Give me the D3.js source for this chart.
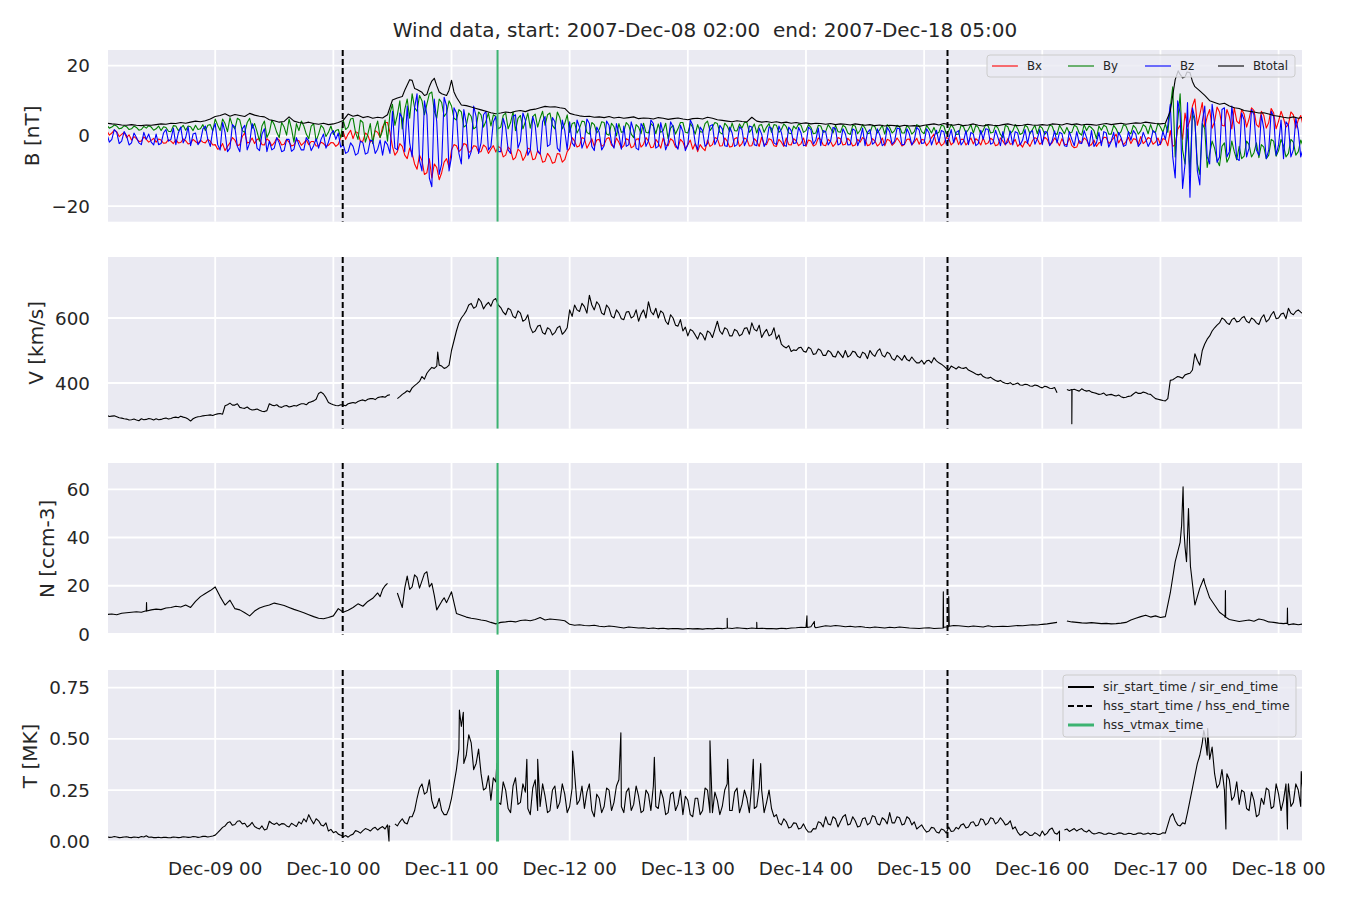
<!DOCTYPE html>
<html><head><meta charset="utf-8">
<script src="https://cdn.jsdelivr.net/npm/d3@7/dist/d3.min.js"></script>
<style>body{margin:0;background:#fff;} svg{font-family:"DejaVu Sans",sans-serif;}</style>
</head><body><svg id="c" width="1350" height="900"></svg>
<script>
// ---------- DATA (hour 0 = 2007-12-08 02:00 UTC; "...Half" arrays are the samples at hour i+0.5) ----------
const titleText = "Wind data, start: 2007-Dec-08 02:00  end: 2007-Dec-18 05:00";
const xTickLabels = ["Dec-09 00","Dec-10 00","Dec-11 00","Dec-12 00","Dec-13 00","Dec-14 00","Dec-15 00","Dec-16 00","Dec-17 00","Dec-18 00"];
const bTicks = [-20, 0, 20];
const vTicks = [400, 600];
const nTicks = [0, 20, 40, 60];
const tTicks = [0, 0.25, 0.5, 0.75];

const btotal = [
3.6,3.4,3.3,3.1,3.0,3.2,3.0,2.9,3.1,3.0,
3.2,3.4,3.3,3.6,3.5,3.8,3.6,3.9,4.2,4.0,
4.3,4.8,5.5,5.8,6.3,5.6,6.1,5.8,5.5,6.4,
5.9,5.6,5.4,4.6,4.3,3.9,4.1,5.4,4.2,3.8,
3.6,3.9,3.5,3.3,3.6,3.2,3.4,3.8,4.4,6.2,
5.6,5.9,5.2,5.5,5.0,5.3,5.1,6.0,10.2,10.8,
11.2,14.5,15.8,13.2,12.4,11.8,15.6,14.3,12.0,11.5,
15.8,11.0,8.8,8.6,8.2,7.8,7.4,7.0,6.6,6.3,
6.5,6.8,6.6,7.0,7.2,6.9,7.4,7.6,8.0,8.4,
8.2,8.3,8.0,7.8,6.4,6.0,5.7,5.5,5.6,5.3,
5.4,5.2,5.5,5.1,5.3,5.0,5.2,5.4,4.9,5.1,
5.0,4.8,5.2,5.0,4.7,4.9,5.1,4.8,4.6,4.9,
5.0,4.8,5.3,5.0,4.6,4.4,4.2,4.0,4.3,4.1,
4.0,5.3,4.2,3.9,4.1,3.8,4.0,3.7,3.9,3.6,
3.8,3.5,3.7,3.4,3.6,3.5,3.3,3.5,3.2,3.4,
3.3,3.1,3.4,3.2,3.0,3.2,2.9,3.1,2.8,3.0,
2.9,2.7,3.0,2.8,2.9,2.7,3.0,3.2,3.4,3.1,
3.5,3.2,3.0,3.3,2.9,3.1,3.4,3.0,2.8,3.2,
3.0,2.9,3.2,3.4,3.1,2.9,3.0,3.3,3.1,3.0,
3.2,3.0,3.4,3.3,3.1,3.5,3.2,3.4,3.1,3.3,
3.2,3.0,3.3,3.5,3.2,3.4,3.6,3.3,3.5,3.7,
3.6,3.9,3.7,3.5,3.4,3.6,7.0,16.0,17.5,16.8,
18.0,14.0,12.8,11.5,10.0,9.5,9.0,9.3,8.5,8.0,
7.8,7.2,7.0,6.8,6.5,6.6,6.2,5.8,5.6,5.3,
5.1,5.4,5.0,5.3];
const btotalExtra = [[60.5,13.0],[61.5,16.0],[62.5,13.5],[64.5,11.5],[65.5,14.0],[66.5,16.4],[67.5,12.5],[69.5,13.0],[70.5,12.5],
  [217.6,18.5],[218.5,16.5],[219.4,18.2],[220.5,15.5]];

const bx = [
1.5,0.8,1.2,0.4,-0.5,-1.2,-0.8,-1.5,-1.0,-1.3,
-1.8,-1.2,-2.0,-1.5,-1.1,-1.9,-1.4,-2.1,-1.6,-1.2,
-2.0,-1.5,-2.5,-3.5,-4.2,-2.0,-1.2,-2.5,0.8,-1.8,
-2.2,-0.8,-2.6,-1.5,-2.0,-1.2,-2.4,-1.8,-2.6,-1.4,
-2.0,-2.5,-1.6,-2.8,-2.2,-2.7,-2.0,-2.4,1.2,0.5,
-0.8,0.8,-1.5,0.2,-1.2,1.0,2.5,3.8,-3.0,-4.5,
-3.0,-6.5,-5.0,-9.5,-7.0,-10.5,-12.0,-9.0,-10.5,-6.5,
-4.0,-2.8,-3.8,-2.5,-4.2,-3.0,-4.5,-3.2,-3.8,-4.6,
-3.5,-5.5,-4.0,-6.2,-4.5,-5.8,-3.8,-6.5,-5.0,-7.2,
-6.0,-7.5,-5.2,-6.8,-3.5,-1.5,-2.8,-0.8,-2.2,-3.0,
-1.0,-2.5,-0.5,-3.2,-1.8,-2.8,-1.2,-3.0,-0.8,-2.4,
-1.5,-3.2,-2.0,-0.6,-2.8,-1.4,-3.5,-1.8,-2.5,-3.8,
-4.5,-3.5,-1.2,-2.5,-0.8,-2.8,-1.5,-3.0,-0.5,-2.2,
-1.0,-2.8,-1.6,-0.4,-2.5,-1.2,-3.0,-1.8,-0.6,-2.6,
-1.4,-2.2,-3.0,-1.5,-2.5,-1.0,-2.8,-1.6,-2.2,-0.8,
-2.4,-1.5,-2.6,-1.8,-1.0,-2.5,-1.5,-2.2,-2.8,-1.3,
-2.0,-1.6,-2.5,-0.9,-1.8,-2.4,-1.2,-1.9,0.5,-1.5,
-2.2,-0.8,-1.8,-2.5,-1.0,-1.7,-2.3,-1.4,-0.6,-2.0,
-1.2,-2.5,-1.5,-0.8,-2.2,-3.0,-3.2,-2.0,-1.4,-0.9,
-1.8,-1.0,-2.0,-1.5,-0.8,-2.5,-2.8,-3.2,-2.0,-1.2,
-2.5,-3.0,-1.8,-0.5,-1.5,0.5,-0.8,-1.6,-2.2,-1.0,
-0.2,-1.5,-0.8,-1.8,-2.5,-1.0,1.5,-2.5,3.0,6.5,
4.5,10.5,6.0,2.5,7.5,4.0,6.8,2.8,5.5,8.0,
3.5,6.2,4.8,7.2,2.5,5.8,3.8,6.5,4.2,5.0,
3.2,6.0,4.5,2.8];
const bxHalf = [
0.2,1.6,-0.2,1.0,0.3,-0.2,-1.6,-0.3,-1.8,-0.7,
-0.9,-2.1,-1.1,-2.2,-2.0,-0.9,-2.3,-1.0,-2.2,-1.8,
-1.0,-2.6,-3.8,-2.2,-3.0,-0.5,-2.8,-0.2,-2.0,-0.6,
-1.0,-2.5,-0.8,-2.8,-0.6,-2.6,-1.0,-2.9,-1.2,-2.7,
-1.2,-1.6,-2.9,-1.8,-3.0,-1.9,-3.0,-0.5,-1.0,1.6,
1.2,-1.6,0.8,-1.8,1.5,-0.5,3.8,1.0,-5.5,-2.2,
-5.5,-3.5,-8.0,-5.5,-11.0,-6.5,-8.0,-12.5,-7.5,-9.0,
-2.5,-4.5,-2.2,-4.8,-2.8,-4.6,-2.6,-5.0,-2.8,-3.0,
-6.0,-3.2,-6.8,-3.8,-7.0,-3.5,-6.8,-4.2,-7.5,-5.0,
-7.8,-5.0,-7.5,-4.5,-0.5,-3.2,-0.5,-3.5,-0.8,-1.2,
-3.0,-0.8,-2.6,-0.6,-3.5,-0.8,-3.4,-1.0,-3.2,-0.5,
-3.4,-1.0,-3.5,-2.6,-0.8,-3.2,-1.0,-3.6,-1.2,-2.2,
-2.5,-4.2,-3.0,-0.5,-2.9,-0.6,-3.2,-0.8,-3.0,-0.6,
-2.9,-0.8,-3.0,-2.4,-0.8,-2.8,-1.0,-3.0,-2.5,-0.8,
-2.8,-0.6,-1.2,-2.9,-0.6,-2.6,-1.0,-3.0,-0.5,-2.6,
-0.7,-2.9,-1.0,-0.5,-2.8,-0.8,-2.9,-0.6,-1.0,-2.7,
-0.6,-2.9,-1.0,-2.6,-0.7,-1.0,-2.8,-0.5,-2.5,-2.8,
-0.5,-2.6,-0.4,-1.0,-2.6,-0.6,-0.8,-2.6,-2.4,-0.7,
-2.8,-0.6,-2.6,-2.4,-1.0,-2.2,-1.6,-3.0,-0.5,-2.4,
-0.4,-2.6,-0.6,-2.8,-2.4,-0.6,-3.4,-1.4,-0.6,-2.8,
-1.2,-2.0,-0.4,-2.2,-0.6,-2.0,-2.6,-0.4,-0.8,-2.4,
-2.2,-0.5,-2.4,-0.6,-0.8,-2.8,-3.0,1.8,-1.0,2.5,
8.5,3.0,9.5,5.5,2.2,8.2,3.0,7.5,2.0,4.2,
7.5,2.5,8.0,3.2,7.0,2.2,7.8,2.0,7.0,2.5,
6.8,2.2,5.8];

const by = [
3.0,2.5,2.8,2.2,2.6,2.0,2.4,1.8,2.2,2.5,
2.0,1.5,2.4,1.2,2.8,2.2,1.6,2.6,3.0,2.0,
1.5,3.2,4.8,1.5,3.5,5.2,2.0,4.5,1.0,5.0,
3.5,-1.5,4.2,1.0,3.2,-0.5,2.5,4.8,-1.8,1.5,
2.8,-0.8,3.5,0.5,2.2,1.0,0.4,1.8,4.5,2.5,
5.0,-1.0,3.8,0.5,-2.2,4.2,1.5,-1.5,9.0,6.0,
2.0,10.5,12.0,7.0,10.0,9.0,12.5,5.0,9.5,6.5,
8.5,4.5,6.8,3.0,5.5,2.5,6.0,4.2,2.8,5.5,
2.5,6.5,3.8,1.5,5.8,4.0,2.2,6.2,5.0,3.0,
6.5,2.0,5.2,3.5,1.0,3.8,2.2,4.0,0.5,3.2,
1.8,3.8,0.2,2.6,3.5,1.2,3.0,-0.5,2.5,3.6,
0.8,2.8,3.4,1.5,-0.8,3.0,2.0,3.8,0.8,2.4,
3.2,1.0,4.2,2.5,3.5,0.5,2.8,3.6,1.4,2.2,
3.8,2.0,0.8,3.2,2.5,1.0,3.0,1.8,2.6,0.6,
2.0,3.0,1.5,2.4,0.8,2.8,1.2,2.2,3.0,1.0,
2.5,0.4,2.8,1.6,2.2,0.8,2.6,1.8,0.5,2.4,
1.5,2.6,0.8,2.2,1.2,2.8,0.6,2.0,2.4,1.0,
2.8,1.5,2.2,0.5,2.6,1.8,0.8,2.4,1.6,2.8,
1.0,2.2,-0.5,2.6,1.4,2.0,0.8,2.5,1.8,0.6,
2.2,1.2,2.8,0.4,1.8,2.4,1.0,2.6,0.2,1.5,
2.3,-0.8,1.6,2.6,0.5,2.0,1.2,2.8,0.6,2.2,
1.4,2.6,3.2,1.0,2.5,3.4,8.0,-6.0,12.0,-8.0,
-10.5,4.0,-11.0,2.0,-5.0,-3.5,-8.5,-2.0,-6.0,-4.5,
-3.0,-5.8,-2.5,-4.8,-6.2,-3.2,-5.5,-1.5,-4.2,-2.8,
-5.0,-1.8,-4.5,-3.0];
const byHalf = [
2.2,3.1,2.0,2.9,1.8,2.8,1.6,2.7,2.9,1.6,
2.8,2.6,1.3,2.9,1.5,3.0,2.8,1.5,1.8,3.2,
3.0,1.4,3.0,4.8,1.2,3.0,5.0,1.5,3.8,2.2,
1.2,2.8,-0.5,4.5,1.0,3.8,0.2,2.0,3.5,4.2,
0.5,2.8,-1.5,3.0,-0.2,2.8,1.5,-0.5,1.8,4.8,
1.0,4.5,-1.8,3.5,2.0,-0.5,4.5,6.5,3.0,10.0,
7.5,5.0,8.0,11.5,6.0,12.0,7.0,10.5,5.5,10.0,
5.0,7.5,2.5,6.5,2.0,6.8,2.5,6.5,6.0,2.0,
5.8,2.0,6.8,5.0,2.0,6.5,5.5,2.5,7.0,6.0,
3.0,6.8,2.0,6.0,3.5,0.8,4.2,1.0,3.8,0.8,
4.0,0.5,3.6,0.0,1.0,3.8,0.5,3.2,0.6,1.0,
3.5,0.6,1.0,3.6,2.2,0.5,3.8,1.0,3.5,0.5,
1.2,3.5,1.5,3.8,1.0,3.6,1.2,1.5,3.4,3.8,
1.0,3.4,3.0,1.0,3.5,3.2,1.0,3.4,0.8,2.8,
3.4,1.0,3.2,0.6,3.0,1.0,3.2,0.8,1.2,3.0,
0.8,3.0,0.6,3.2,0.6,3.0,0.8,3.0,3.2,0.8,
3.0,0.8,3.0,0.5,3.2,1.2,3.0,0.8,0.6,3.0,
0.6,3.2,0.4,3.0,0.8,3.2,3.0,0.5,3.2,0.8,
3.0,0.4,3.0,0.6,3.2,0.4,3.0,0.6,3.0,2.8,
0.4,3.0,0.8,3.0,0.6,0.8,3.0,0.8,3.2,2.8,
1.5,2.8,3.0,0.5,3.0,0.4,3.2,1.0,3.0,0.5,
3.2,0.6,1.2,3.6,1.0,1.0,14.0,4.0,-4.0,2.0,
6.5,-8.0,3.5,-9.0,-1.5,-7.0,-3.0,-7.5,-1.5,-6.8,
-6.5,-1.5,-6.0,-2.0,-2.5,-6.5,-1.0,-5.8,-1.0,-6.0,
-1.0,-5.5,-1.2];

const bz = [
0.5,-1.0,1.0,-1.5,0.0,-2.0,-0.5,-2.5,-1.0,-1.8,
0.5,-2.2,1.8,-1.0,-2.5,2.5,-0.5,-2.8,0.8,-1.5,
2.8,-3.0,3.5,-4.0,1.0,-3.5,2.5,-4.5,3.0,-2.0,
1.5,-4.2,2.0,-1.5,-3.5,-2.0,-4.2,-1.0,-3.8,-2.5,
-4.0,-1.5,-2.8,-3.5,0.5,-1.8,1.5,0.8,-2.5,-4.5,
-3.0,-5.0,-2.0,-4.8,-1.5,-3.8,-5.5,-2.5,7.0,-4.0,
5.0,8.5,-6.0,12.0,-10.0,6.0,-14.5,4.0,-8.0,8.5,
-6.0,6.5,-8.0,3.5,-4.5,5.5,-2.0,7.0,-3.0,5.5,
-4.5,2.5,-5.0,6.0,-1.5,4.5,-4.0,3.0,-5.2,5.5,
-2.5,4.0,-4.5,1.5,4.0,-3.0,2.5,-1.5,3.5,-4.2,
1.0,-2.8,3.0,-3.5,0.5,2.8,-2.5,1.5,-4.0,2.2,
-1.5,3.5,-3.0,0.5,-2.0,2.6,-3.8,1.2,-2.5,3.0,
-4.0,1.5,-2.2,3.2,-1.0,2.0,-3.0,0.8,-2.5,1.8,
-1.2,2.5,-2.8,0.5,-1.8,2.2,-2.5,1.0,-3.0,1.5,
-2.0,0.8,-2.6,1.8,-1.2,-2.8,1.2,-1.5,2.0,-2.2,
0.6,-2.5,1.5,-1.0,-2.8,1.8,-1.8,0.2,-2.2,1.2,
-1.5,2.0,-2.4,0.5,-1.2,1.6,-2.0,0.8,-0.5,-1.8,
1.2,-0.8,-2.0,1.5,-1.6,-2.5,0.5,-2.2,-1.0,1.8,
-2.0,-0.5,1.2,-1.8,-2.6,0.8,-1.2,-2.2,1.5,-0.8,
-2.5,1.0,-1.5,-2.0,0.6,-3.0,-1.0,1.2,-2.2,-0.5,
1.5,-2.0,-2.8,0.8,-1.6,-3.2,-0.5,-2.6,-1.2,0.5,
-2.0,-0.8,-1.6,0.8,-2.2,-1.0,9.0,-12.0,6.5,-8.0,
-17.5,5.0,-14.0,8.5,-8.0,3.5,-6.0,8.0,-4.5,2.5,
-7.0,4.5,-3.5,6.0,-5.5,2.0,-4.0,5.5,-2.5,-6.5,
3.0,-4.0,1.5,-3.5];
const bzHalf = [
-1.8,1.8,-2.2,1.2,-2.6,0.8,-2.0,1.0,0.5,-2.6,
-2.5,0.8,-1.5,2.2,0.8,-2.0,2.6,0.5,-2.5,2.0,
-1.0,1.5,-2.5,3.8,-4.5,3.2,-3.0,2.0,-4.0,3.5,
-3.5,0.5,-4.5,-4.0,-0.5,-4.5,-1.0,-4.4,-0.5,-4.0,
-0.5,-4.2,-0.8,-1.0,-3.5,0.6,-1.0,-3.2,-5.0,-2.0,
-5.5,-1.5,-5.2,-1.2,-5.0,-1.2,-1.5,-5.0,-3.5,6.5,
-4.5,-2.0,8.0,-7.0,10.0,-12.0,10.5,-11.0,11.0,-10.0,
8.0,-5.0,7.5,-6.5,8.5,-5.0,6.0,-4.0,4.0,-4.5,
5.0,-4.0,5.5,-3.5,6.5,-5.5,5.5,-4.5,4.0,-3.0,
5.2,-3.5,4.5,-4.0,-2.0,4.5,-3.5,4.8,-3.0,2.5,
-4.0,4.2,-2.0,3.5,-3.8,-3.0,4.0,-3.5,3.5,-3.0,
4.5,-3.5,3.8,-4.0,4.0,-2.5,3.0,-4.2,4.5,-2.0,
2.5,-3.0,2.8,-2.5,3.0,-2.8,2.5,-3.0,2.6,-2.8,
2.8,-2.5,2.2,-3.0,2.6,-2.0,2.8,-2.6,2.5,-2.2,
2.4,-2.8,2.5,-2.4,2.2,1.5,-2.6,2.4,-2.6,2.0,
-2.6,2.0,-2.8,2.2,1.0,-2.4,2.0,-2.8,2.4,-2.4,
2.2,-2.6,2.0,-2.6,2.4,-2.2,2.0,-2.6,1.6,1.5,
-2.4,1.8,1.0,-2.6,1.5,1.0,-2.8,1.6,2.0,-2.4,
1.6,-2.8,-2.4,1.4,1.2,-2.6,1.8,1.0,-2.4,1.8,
1.2,-2.8,1.4,1.0,-2.8,1.2,-2.8,-2.0,1.5,-3.0,
-3.0,1.0,1.2,-3.2,1.0,1.0,-3.0,1.2,1.5,-3.0,
1.0,-3.0,1.5,-2.8,1.2,3.0,-6.0,10.0,-15.0,9.5,
8.0,-10.0,4.0,-6.0,9.0,-7.5,7.5,-6.0,8.5,-6.5,
6.5,-6.0,7.5,-4.0,6.0,-6.5,7.0,-5.5,4.5,4.0,
-6.0,5.0,-6.0];

const speed = [
300,298,296,292,289,287,286,290,288,289,
290,288,292,291,295,298,293,283,294,297,
300,302,303,306,330,338,332,325,322,320,
318,316,312,336,330,327,329,326,331,333,
336,340,345,368,366,340,333,330,332,336,
340,343,348,350,352,355,358,362,null,352,
365,376,385,398,420,430,448,452,452,448,
500,560,600,622,645,635,650,640,636,660,
632,610,625,600,615,595,572,560,578,550,
565,555,575,558,625,640,620,635,670,625,
640,610,630,600,615,595,620,605,590,625,
650,610,600,615,580,600,575,560,545,560,
535,548,560,540,590,550,565,545,560,550,
570,585,560,540,565,550,535,520,508,497,
500,510,495,505,490,500,485,495,480,488,
500,485,495,478,490,500,482,505,480,490,
470,478,485,468,470,462,458,470,478,462,
452,440,448,450,445,440,432,425,420,415,
412,405,402,398,395,400,393,395,390,392,
385,388,383,370,null,380,378,378,382,375,
372,368,366,362,365,360,358,356,360,372,
368,370,365,352,348,345,408,415,418,425,
430,490,455,520,545,570,585,595,580,600,
590,605,585,595,580,610,595,620,600,615,
630,610,625,612];
const speedHalf = [
297,299,293,290,286,289,284,287,291,286,
287,291,289,294,293,295,289,290,296,299,
301,300,305,304,333,332,336,323,326,317,
320,313,315,332,333,325,331,328,329,336,
333,342,350,372,355,336,331,333,330,338,
338,346,345,352,349,357,356,364,null,358,
370,372,392,405,412,440,445,455,445,455,
530,585,610,640,630,660,628,648,655,640,
618,630,605,622,590,610,555,575,555,570,
548,570,550,570,605,625,645,615,640,650,
615,640,605,625,598,618,600,625,612,600,
620,630,622,590,610,578,595,572,565,548,
555,532,555,565,560,570,545,565,545,568,
550,565,578,555,545,570,548,512,515,502,
508,498,510,488,505,485,500,482,498,478,
480,498,482,495,475,488,498,485,495,475,
485,470,472,480,462,470,468,462,468,458,
445,452,443,446,448,436,428,428,416,418,
408,408,399,401,397,394,396,391,394,388,
390,384,386,null,null,377,381,375,378,377,
370,365,369,364,362,363,355,359,366,368,
372,366,358,350,346,352,410,420,415,428,
440,470,500,535,560,578,600,585,595,588,
600,590,600,585,600,588,610,598,612,598,
615,620,618];
const speedExtra = [[67.2,495],[195.95,380],[196.0,275],[196.05,379]];

const density = [
8.1,8.3,8.0,8.6,8.8,9.0,9.2,9.0,9.6,10.0,
10.3,10.1,10.8,11.0,11.5,11.2,12.0,11.0,13.5,15.5,
16.8,18.0,19.5,15.5,12.0,14.0,10.5,10.0,8.8,7.5,
9.5,10.8,11.5,12.0,12.8,12.3,11.8,11.0,10.2,9.5,
8.8,8.0,7.2,6.5,6.3,6.8,7.5,10.5,9.0,9.8,
11.0,12.5,11.5,13.5,14.8,17.0,18.5,21.0,null,17.0,
11.0,24.0,19.5,23.5,22.0,25.8,21.0,10.0,13.5,13.0,
17.5,8.5,7.8,7.0,6.5,6.2,5.8,5.5,4.8,4.2,
4.8,5.0,5.3,5.0,5.6,5.8,5.5,6.0,6.8,5.8,
6.2,6.0,5.8,5.5,4.0,3.6,3.8,3.5,3.4,3.6,
3.2,3.0,3.3,3.1,2.8,2.5,2.9,2.7,2.5,2.6,
2.3,2.5,2.2,2.4,2.1,2.3,2.2,2.0,2.3,2.1,
2.2,2.0,2.3,2.1,2.4,2.2,2.5,2.3,2.6,2.4,
2.2,2.5,2.3,2.4,2.2,2.3,2.1,2.4,2.2,2.5,
2.6,2.8,2.7,3.0,2.6,3.0,3.4,3.2,3.5,3.3,
3.0,3.2,2.9,3.1,2.8,2.6,2.9,2.7,2.5,2.8,
2.6,2.9,2.7,2.5,2.4,2.3,2.5,2.6,2.3,2.4,
2.8,3.2,3.5,3.4,3.2,3.0,3.3,3.1,2.9,3.4,
3.0,3.1,3.2,3.1,3.3,3.5,3.4,3.6,3.8,3.7,
4.0,4.2,4.5,4.8,null,5.4,5.0,4.8,4.6,4.5,
4.7,4.5,4.3,4.4,4.2,4.3,4.5,4.8,5.8,6.5,
7.2,7.8,7.0,7.5,6.8,7.2,17.0,30.0,38.0,36.0,
33.0,12.0,19.0,21.0,15.0,12.0,9.0,7.5,6.0,5.6,
5.2,5.5,5.8,5.3,6.2,5.8,5.0,4.8,4.5,4.3,
3.8,4.2,3.8,4.2];
const densityExtra = [[8.0,9.4],[8.05,13.0],[8.1,9.5],[55.5,15.5],[56.5,20.0],[60.5,19.0],[61.5,18.5],[62.5,24.5],[63.5,19.0],
  [64.5,25.0],[65.5,19.5],[66.5,16.0],[68.5,15.0],
  [126.0,6.5],[126.05,2.5],[132.0,4.8],[132.05,2.3],
  [142.2,7.5],[142.25,2.7],[143.7,5.2],[143.75,3.0],[169.85,2.5],[169.9,17.5],[169.95,2.6],
  [170.95,3.0],[171.0,15.5],[171.1,3.2],[218.3,45.0],[218.6,61.0],[218.8,42.0],[219.3,30.0],
  [219.7,52.0],[220.1,28.0],[222.8,23.0],[227.15,7.0],[227.2,18.0],[227.25,7.0],[239.75,4.5],[239.8,10.7],[239.85,4.3]];

const temperature = [
0.022,0.020,0.021,0.019,0.022,0.018,0.020,0.023,0.027,0.021,
0.018,0.017,0.019,0.018,0.020,0.019,0.021,0.020,0.022,0.021,
0.024,0.023,0.030,0.055,0.075,0.095,0.082,0.100,0.088,0.078,
0.072,0.060,0.055,0.098,0.082,0.078,0.085,0.070,0.080,0.095,
0.110,0.130,0.085,0.100,0.075,0.050,0.042,0.035,0.022,0.020,
0.035,0.048,0.052,0.058,0.062,0.055,0.072,0.080,null,0.075,
0.110,0.085,0.120,0.210,0.280,0.240,0.200,0.170,0.150,0.130,
0.210,0.350,0.560,0.420,0.480,0.380,0.330,0.260,0.200,0.290,
0.180,0.250,0.140,0.310,0.190,0.240,0.130,0.300,0.170,0.220,
0.150,0.270,0.190,0.230,0.170,0.330,0.200,0.160,0.280,0.120,
0.210,0.170,0.250,0.190,0.300,0.140,0.260,0.180,0.220,0.150,
0.230,0.270,0.160,0.210,0.140,0.240,0.180,0.130,0.200,0.120,
0.210,0.150,0.250,0.140,0.200,0.170,0.280,0.150,0.260,0.180,
0.210,0.280,0.170,0.250,0.190,0.160,0.130,0.080,0.095,0.070,
0.088,0.065,0.060,0.045,0.060,0.090,0.120,0.080,0.110,0.095,
0.130,0.085,0.100,0.075,0.115,0.090,0.120,0.080,0.105,0.140,
0.090,0.115,0.085,0.110,0.095,0.070,0.060,0.050,0.065,0.040,
0.055,0.070,0.050,0.060,0.085,0.070,0.095,0.080,0.105,0.090,
0.110,0.095,0.100,0.085,0.060,0.045,0.035,0.040,0.030,0.035,
0.050,0.040,0.065,0.035,null,0.060,0.055,0.050,0.062,0.045,
0.042,0.038,0.040,0.035,0.038,0.036,0.040,0.034,0.038,0.035,
0.040,0.036,0.034,0.038,0.035,0.040,0.120,0.100,0.075,0.085,
0.200,0.320,0.420,0.520,0.400,0.330,0.280,0.250,0.300,0.220,
0.180,0.240,0.150,0.200,0.130,0.180,0.250,0.170,0.230,0.200,
0.280,0.190,0.250,0.220];
const temperatureHalf = [
0.019,0.023,0.018,0.021,0.019,0.021,0.018,0.021,0.020,0.018,
0.020,0.019,0.017,0.021,0.018,0.022,0.019,0.023,0.019,0.024,
0.021,0.026,0.042,0.068,0.090,0.078,0.098,0.085,0.070,0.092,
0.065,0.075,0.060,0.088,0.090,0.086,0.075,0.088,0.072,0.085,
0.095,0.105,0.110,0.080,0.090,0.058,0.048,0.030,0.028,0.030,
0.052,0.040,0.062,0.050,0.068,0.065,0.060,0.070,0.085,0.095,
0.090,0.120,0.150,0.260,0.230,0.300,0.160,0.210,0.130,0.160,
0.280,0.450,0.380,0.520,0.350,0.450,0.250,0.320,0.310,0.190,
0.290,0.160,0.270,0.180,0.280,0.160,0.260,0.150,0.280,0.140,
0.250,0.160,0.280,0.140,0.260,0.180,0.270,0.240,0.150,0.230,
0.140,0.260,0.150,0.270,0.170,0.240,0.150,0.270,0.140,0.250,
0.150,0.170,0.250,0.130,0.230,0.150,0.250,0.220,0.130,0.210,
0.130,0.260,0.140,0.240,0.130,0.250,0.150,0.240,0.140,0.250,
0.140,0.160,0.260,0.140,0.250,0.120,0.090,0.110,0.065,0.090,
0.060,0.085,0.045,0.062,0.095,0.070,0.085,0.120,0.070,0.120,
0.080,0.120,0.070,0.110,0.080,0.125,0.085,0.115,0.085,0.090,
0.120,0.080,0.120,0.080,0.060,0.080,0.045,0.068,0.045,0.060,
0.040,0.048,0.068,0.080,0.065,0.092,0.075,0.110,0.080,0.115,
0.085,0.115,0.080,0.100,0.070,0.030,0.048,0.028,0.042,0.025,
0.030,0.058,0.040,0.050,0.055,0.048,0.062,0.058,0.050,0.055,
0.036,0.043,0.034,0.040,0.033,0.041,0.035,0.039,0.033,0.040,
0.034,0.040,0.039,0.033,0.042,0.080,0.135,0.080,0.090,0.140,
0.260,0.380,0.480,0.420,0.460,0.260,0.350,0.330,0.200,0.290,
0.250,0.160,0.240,0.120,0.210,0.260,0.160,0.280,0.150,0.280,
0.170,0.280,0.170];
const temperatureExtra = [[57.3,0.0],[57.35,0.075],[71.6,0.64],[72.4,0.63],[79.2,0.38],[85.3,0.40],[87.5,0.40],
  [94.6,0.44],[104.4,0.53],[111.2,0.41],[122.5,0.49],[126.1,0.40],[131.3,0.40],[132.8,0.38],
  [193.5,0.0],[222.8,0.54],[223.6,0.55],[227.3,0.06],[227.35,0.25],[239.8,0.06],[239.85,0.2],[242.6,0.34]];

const hssHours = [47.9, 170.75];   // hss_start_time / hss_end_time
const vtmaxHour = 79.35;           // hss_vtmax_time

// ---------- CHART ----------
const svg = d3.select("#c");
const H = 3600e3;
const t0 = Date.UTC(2007, 11, 8, 2, 0);
const t1 = Date.UTC(2007, 11, 18, 5, 0);
const toDate = h => new Date(t0 + h * H);
const axL = 108, axR = 1302;
const x = d3.scaleUtc().domain([new Date(t0), new Date(t1)]).range([106.9, 1303.2]);
const dayTicks = d3.utcDay.range(new Date(Date.UTC(2007,11,9)), new Date(Date.UTC(2007,11,18,1)));

function build(vals, half, extra) {
  const pts = vals.map((v, i) => ({h: i, v}));
  (half || []).forEach((v, i) => pts.push({h: i + 0.5, v}));
  (extra || []).forEach(([h, v]) => pts.push({h, v}));
  pts.sort((a, b) => a.h - b.h);
  return pts.map(p => ({date: toDate(p.h), v: p.v}));
}

const panels = [
  {top: 50, bottom: 221.7, domain: [-24.45, 24.45], ticks: bTicks, fmt: d3.format("d"), label: "B [nT]", lx: 32,
   series: [{d: build(bx, bxHalf), c: "#ff0000"}, {d: build(by, byHalf), c: "#008000"}, {d: build(bz, bzHalf), c: "#0000ff"}, {d: build(btotal, null, btotalExtra), c: "#000000"}]},
  {top: 257, bottom: 428.7, domain: [259.4, 787.7], ticks: vTicks, fmt: d3.format("d"), label: "V [km/s]", lx: 36,
   series: [{d: build(speed, speedHalf, speedExtra), c: "#000000"}]},
  {top: 463, bottom: 634.7, domain: [-0.3, 70.9], ticks: nTicks, fmt: d3.format("d"), label: "N [ccm-3]", lx: 47,
   series: [{d: build(density, null, densityExtra), c: "#000000"}]},
  {top: 670, bottom: 841.7, domain: [-0.002, 0.836], ticks: tTicks, fmt: d3.format(".2f"), label: "T [MK]", lx: 30,
   series: [{d: build(temperature, temperatureHalf, temperatureExtra), c: "#000000"}]}
];

const txt = "#262626";
svg.append("text").attr("x", (axL + axR) / 2).attr("y", 37).attr("text-anchor", "middle")
  .attr("font-size", 20).attr("fill", txt).attr("xml:space", "preserve").style("white-space", "pre").text(titleText);

panels.forEach((p, pi) => {
  const y = d3.scaleLinear().domain(p.domain).range([p.bottom, p.top]);
  const g = svg.append("g");
  g.append("rect").attr("x", axL).attr("y", p.top).attr("width", axR - axL).attr("height", p.bottom - p.top).attr("fill", "#EAEAF2");
  const cid = "clip" + pi;
  svg.append("clipPath").attr("id", cid).append("rect").attr("x", axL).attr("y", p.top).attr("width", axR - axL).attr("height", p.bottom - p.top);
  g.selectAll(".vg").data(dayTicks).enter().append("line")
    .attr("x1", d => x(d)).attr("x2", d => x(d)).attr("y1", p.top).attr("y2", p.bottom)
    .attr("stroke", "#fff").attr("stroke-width", 1.8);
  g.selectAll(".hg").data(p.ticks).enter().append("line")
    .attr("x1", axL).attr("x2", axR).attr("y1", d => y(d)).attr("y2", d => y(d))
    .attr("stroke", "#fff").attr("stroke-width", 1.8);
  g.selectAll(".yt").data(p.ticks).enter().append("text")
    .attr("x", 90).attr("y", d => y(d)).attr("dy", "0.36em").attr("text-anchor", "end")
    .attr("font-size", 18.3).attr("fill", txt).text(d => p.fmt(d));
  g.append("text").attr("transform", `translate(${p.lx},${(p.top + p.bottom) / 2}) rotate(-90)`)
    .attr("text-anchor", "middle").attr("dy", "0.36em").attr("font-size", 20).attr("fill", txt).text(p.label);
  const line = d3.line().defined(d => d.v != null).x(d => x(d.date)).y(d => y(d.v));
  const dg = g.append("g").attr("clip-path", `url(#${cid})`);
  p.series.forEach(s => {
    dg.append("path").attr("d", line(s.d)).attr("fill", "none").attr("stroke", s.c)
      .attr("stroke-width", 1.1).attr("stroke-linejoin", "round");
  });
  hssHours.forEach(h => {
    dg.append("line").attr("x1", x(toDate(h))).attr("x2", x(toDate(h))).attr("y1", p.top).attr("y2", p.bottom)
      .attr("stroke", "#000").attr("stroke-width", 2).attr("stroke-dasharray", "6,3");
  });
  dg.append("line").attr("x1", x(toDate(vtmaxHour))).attr("x2", x(toDate(vtmaxHour))).attr("y1", p.top).attr("y2", p.bottom)
    .attr("stroke", "#3cb371").attr("stroke-width", pi === 3 ? 3 : 2);
  if (pi === 3) {
    g.selectAll(".xt").data(dayTicks).enter().append("text")
      .attr("x", d => x(d)).attr("y", 875).attr("text-anchor", "middle")
      .attr("font-size", 18.3).attr("fill", txt).text((d, i) => xTickLabels[i]);
  }
});

// legend panel 1
const leg1 = svg.append("g");
leg1.append("rect").attr("x", 987).attr("y", 55).attr("width", 308).attr("height", 22).attr("rx", 3)
  .attr("fill", "#EAEAF2").attr("fill-opacity", 0.8).attr("stroke", "#cccccc").attr("stroke-width", 1);
const leg1Items = [{l: "Bx", c: "#ff0000", x: 992}, {l: "By", c: "#008000", x: 1068}, {l: "Bz", c: "#0000ff", x: 1145}, {l: "Btotal", c: "#000000", x: 1218}];
leg1Items.forEach(it => {
  leg1.append("line").attr("x1", it.x).attr("x2", it.x + 26).attr("y1", 66).attr("y2", 66).attr("stroke", it.c).attr("stroke-width", 1.1);
  leg1.append("text").attr("x", it.x + 35).attr("y", 66).attr("dy", "0.36em").attr("font-size", 11.8).attr("fill", txt).text(it.l);
});

// legend panel 4
const leg4 = svg.append("g");
leg4.append("rect").attr("x", 1063).attr("y", 675).attr("width", 233).attr("height", 62).attr("rx", 3)
  .attr("fill", "#EAEAF2").attr("fill-opacity", 0.8).attr("stroke", "#cccccc").attr("stroke-width", 1);
const leg4Items = [
  {l: "sir_start_time / sir_end_time", c: "#000", dash: null, w: 2, y: 687},
  {l: "hss_start_time / hss_end_time", c: "#000", dash: "6,3", w: 2, y: 706},
  {l: "hss_vtmax_time", c: "#3cb371", dash: null, w: 3, y: 725}];
leg4Items.forEach(it => {
  const ln = leg4.append("line").attr("x1", 1068).attr("x2", 1094).attr("y1", it.y).attr("y2", it.y).attr("stroke", it.c).attr("stroke-width", it.w);
  if (it.dash) ln.attr("stroke-dasharray", it.dash);
  leg4.append("text").attr("x", 1103).attr("y", it.y).attr("dy", "0.36em").attr("font-size", 12.4).attr("fill", txt).text(it.l);
});
</script></body></html>
